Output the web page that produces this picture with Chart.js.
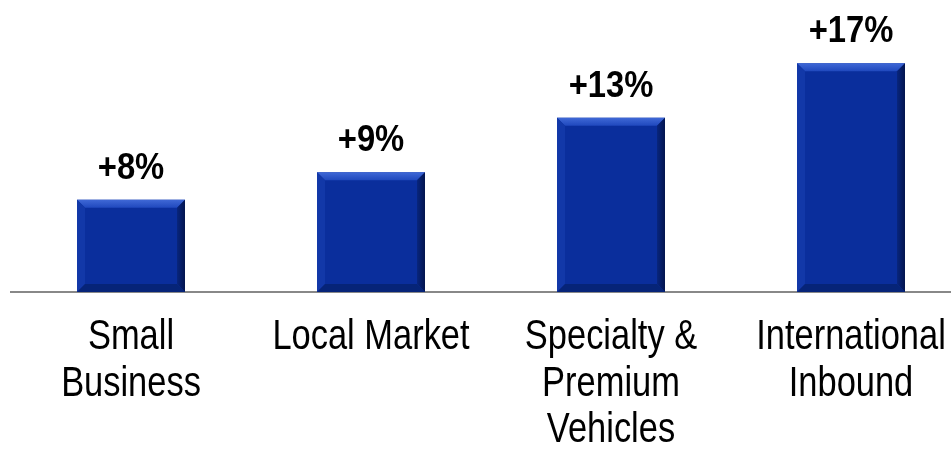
<!DOCTYPE html>
<html>
<head>
<meta charset="utf-8">
<script src="https://cdn.jsdelivr.net/npm/chart.js@4/dist/chart.umd.min.js"></script>
<style>
html,body{margin:0;padding:0;background:#fff;overflow:hidden;width:951px;height:449px;}
#wrap{position:absolute;left:0;top:0;width:972px;height:449px;}
</style>
</head>
<body>
<div id="wrap"><canvas id="c" width="972" height="449"></canvas></div>
<script>
const categories = [["Small","Business"],["Local Market"],["Specialty &","Premium","Vehicles"],["International","Inbound"]];
const growthValues = [6.85, 8.9, 12.95, 17.0];
const growthLabels = ["+8%","+9%","+13%","+17%"];

const FONT = "'Liberation Sans',Arial,sans-serif";

const bevelPlugin = {
  id: 'bevel',
  afterDatasetsDraw(chart) {
    const ctx = chart.ctx;
    const meta = chart.getDatasetMeta(0);
    meta.data.forEach((bar) => {
      const p = bar.getProps(['x','y','base','width'], true);
      const l = p.x - p.width/2, r = p.x + p.width/2, t = p.y, b = p.base;
      const d = 8;
      ctx.save();
      let g = ctx.createLinearGradient(0, t, 0, t + d);
      g.addColorStop(0, '#3f68d6'); g.addColorStop(1, '#1f48bd');
      ctx.fillStyle = g;
      ctx.beginPath(); ctx.moveTo(l, t); ctx.lineTo(r, t); ctx.lineTo(r - d, t + d); ctx.lineTo(l + d, t + d); ctx.closePath(); ctx.fill();
      ctx.fillStyle = '#1238a8';
      ctx.beginPath(); ctx.moveTo(l, t); ctx.lineTo(l + d, t + d); ctx.lineTo(l + d, b - d); ctx.lineTo(l, b); ctx.closePath(); ctx.fill();
      g = ctx.createLinearGradient(r - d, 0, r, 0);
      g.addColorStop(0, '#08257e'); g.addColorStop(1, '#03154f');
      ctx.fillStyle = g;
      ctx.beginPath(); ctx.moveTo(r, t); ctx.lineTo(r, b); ctx.lineTo(r - d, b - d); ctx.lineTo(r - d, t + d); ctx.closePath(); ctx.fill();
      ctx.fillStyle = '#062478';
      ctx.beginPath(); ctx.moveTo(l, b); ctx.lineTo(r, b); ctx.lineTo(r - d, b - d); ctx.lineTo(l + d, b - d); ctx.closePath(); ctx.fill();
      ctx.restore();
    });
  }
};

function narrowText(ctx, text, x, y, sx) {
  ctx.save();
  ctx.translate(x, y);
  ctx.scale(sx, 1);
  ctx.fillText(text, 0, 0);
  ctx.restore();
}

const labelPlugin = {
  id: 'labels',
  afterDraw(chart) {
    const ctx = chart.ctx;
    const meta = chart.getDatasetMeta(0);
    const xs = chart.scales.x;
    ctx.save();
    ctx.fillStyle = '#000';
    ctx.textAlign = 'center';
    ctx.textBaseline = 'alphabetic';
    ctx.font = "bold 36px " + FONT;
    meta.data.forEach((bar, i) => {
      narrowText(ctx, growthLabels[i], bar.x, bar.y - 21, 0.91);
    });
    ctx.font = "42px " + FONT;
    categories.forEach((lines, i) => {
      const x = xs.getPixelForValue(i);
      lines.forEach((line, j) => {
        narrowText(ctx, line, x, xs.bottom - 157 + 57 + j * 46.5, 0.82);
      });
    });
    ctx.restore();
  }
};

new Chart(document.getElementById('c'), {
  type: 'bar',
  data: {
    labels: categories,
    datasets: [{
      data: growthValues,
      backgroundColor: '#0a2e9c',
      borderWidth: 0,
      barPercentage: 0.45,
      categoryPercentage: 1.0
    }]
  },
  options: {
    responsive: false,
    animation: false,
    events: [],
    layout: { padding: { top: 23, left: 11, right: 1, bottom: 0 } },
    plugins: { legend: { display: false }, tooltip: { enabled: false } },
    scales: {
      x: {
        grid: { display: false, drawTicks: false },
        border: { display: true, color: '#888888', width: 2 },
        ticks: { display: false },
        afterFit(scale) { scale.height = 157; }
      },
      y: { display: false, min: 0, max: 20 }
    }
  },
  plugins: [bevelPlugin, labelPlugin]
});
</script>
</body>
</html>
